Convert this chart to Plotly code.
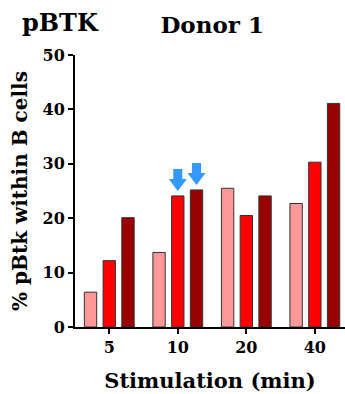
import plotly.graph_objects as go

categories = ["5", "10", "20", "40"]
series_names = ["low", "mid", "high"]
values_low = [6.4, 13.7, 25.5, 22.7]
values_mid = [12.2, 24.1, 20.5, 30.3]
values_high = [20.1, 25.2, 24.1, 41.1]
colors = ["#FF9999", "#FF0000", "#990000"]
y_ticks = [0, 10, 20, 30, 40, 50]

FONT = "DejaVu Serif"
xpos = list(range(len(categories)))

fig = go.Figure()
for name, vals, col in zip(series_names, [values_low, values_mid, values_high], colors):
    fig.add_trace(go.Bar(x=xpos, y=vals, name=name, marker=dict(color=col, line=dict(color="#333333", width=1)),
                         showlegend=False))

fig.update_layout(
    template="none",
    width=345, height=394,
    margin=dict(l=75, r=0, t=55, b=67),
    plot_bgcolor="white", paper_bgcolor="white",
    barmode="group", bargap=0.18, bargroupgap=0.34,
    font=dict(family=FONT, color="black"),
    title=dict(text="<b>Donor 1</b>", x=0.615, xanchor="center", y=0.937, yanchor="middle",
               font=dict(size=23, family=FONT, color="black")),
)
fig.update_xaxes(
    range=[-0.5, 3.44], tickmode="array", tickvals=xpos, ticktext=[f"<b>{c}</b>" for c in categories],
    showline=True, linecolor="black", linewidth=2, ticks="outside", ticklen=5, tickwidth=2, tickcolor="black",
    showgrid=False, zeroline=False, tickfont=dict(size=16, family=FONT, color="black"),
    title=dict(text="<b>Stimulation (min)</b>", font=dict(size=21, family=FONT, color="black"), standoff=17),
)
fig.update_yaxes(
    range=[0, 50], tickmode="array", tickvals=y_ticks, ticktext=[f"<b>{t}</b>" for t in y_ticks],
    showline=True, linecolor="black", linewidth=2, ticks="outside", ticklen=5, tickwidth=2, tickcolor="black",
    showgrid=False, zeroline=False, tickfont=dict(size=16, family=FONT, color="black"),
    title=dict(text="<b>% pBtk within B cells</b>", font=dict(size=20, family=FONT, color="black"), standoff=10),
)

fig.add_annotation(text="<b>pBTK</b>", xref="paper", yref="paper", x=-0.204, y=1.121, xanchor="left",
                   yanchor="middle", showarrow=False, font=dict(size=24, family=FONT, color="black"))

# blue arrows pointing at the 10-min mid and high bars
offset = 0.273
arrow_path = "M0,5 L-9,17 L-4.5,17 L-4.5,27 L4.5,27 L4.5,17 L9,17 Z"
for dx, v in [(0.0, values_mid[1]), (offset, values_high[1])]:
    fig.add_shape(type="path", xref="x", yref="y", xsizemode="pixel", ysizemode="pixel",
                  xanchor=1 + dx, yanchor=v, path=arrow_path,
                  fillcolor="#3399FF", line=dict(width=0))

fig.write_html("out.html")
